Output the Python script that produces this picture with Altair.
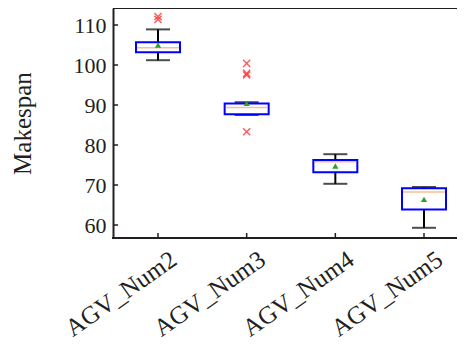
import altair as alt
import pandas as pd

cats = ["AGV_Num2", "AGV_Num3", "AGV_Num4", "AGV_Num5"]
whisker_low = [101.2, 87.5, 70.3, 59.3]
q1 = [103.2, 87.7, 73.2, 63.9]
median = [104.3, 89.4, 75.8, 68.25]
q3 = [105.7, 90.4, 76.25, 69.2]
whisker_high = [108.9, 90.7, 77.7, 69.5]
means = [105.0, 90.4, 74.75, 66.4]

outlier_cats = ["AGV_Num2", "AGV_Num2", "AGV_Num3", "AGV_Num3", "AGV_Num3", "AGV_Num3"]
outlier_vals = [112.1, 111.4, 100.4, 97.9, 97.5, 83.3]

y_ticks = [60, 70, 80, 90, 100, 110]

W, H = 344, 230
FONT = "Liberation Serif"
INK = "#231f20"

df = pd.DataFrame({"cat": cats, "lo": whisker_low, "q1": q1, "med": median,
                   "q3": q3, "hi": whisker_high, "mean": means})
out_df = pd.DataFrame({"cat": outlier_cats, "val": outlier_vals})
tick_df = pd.DataFrame({"v": y_ticks})

xs = alt.Scale(type="point", domain=cats, range=[45, 311], padding=0)
ys = alt.Scale(domain=[56.75, 114.25], nice=False, zero=False)

yaxis = alt.Axis(title="Makespan", values=y_ticks, labelFont=FONT, labelFontSize=22,
                 labelColor=INK, titleFont=FONT, titleFontSize=25, titleFontWeight="normal",
                 titleColor=INK, titlePadding=38, labelPadding=7, ticks=False, grid=False,
                 domainColor=INK, domainWidth=2)


def X():
    return alt.X("cat:N", scale=xs, sort=cats, axis=None)


def Y(f):
    return alt.Y(f, scale=ys, axis=yaxis)


base = alt.Chart(df)

whisk_lo = base.mark_rule(color="black", strokeWidth=2).encode(x=X(), y=Y("lo:Q"), y2="q1:Q")
whisk_hi = base.mark_rule(color="black", strokeWidth=2).encode(x=X(), y=Y("q3:Q"), y2="hi:Q")
cap_lo = base.mark_tick(color="black", thickness=2, size=24).encode(x=X(), y=Y("lo:Q"))
cap_hi = base.mark_tick(color="black", thickness=2, size=24).encode(x=X(), y=Y("hi:Q"))
box = base.mark_bar(fill="white", stroke="#0000ff", strokeWidth=2, size=44).encode(
    x=X(), y=Y("q1:Q"), y2="q3:Q")
med = base.mark_tick(color="#f5a46a", thickness=1.5, size=42).encode(x=X(), y=Y("med:Q"))
mean_pt = base.mark_point(shape="triangle-up", filled=True, color="#2ca02c", size=38,
                          opacity=1).encode(x=X(), y=Y("mean:Q"))
outl = alt.Chart(out_df).mark_point(shape="M-1,-1L1,1M-1,1L1,-1", filled=False, color="#ff3030",
                                    size=50, strokeWidth=1.4, opacity=0.8).encode(
    x=X(), y=Y("val:Q"))

ytk = alt.Chart(tick_df).mark_rule(color=INK, strokeWidth=1.5).encode(
    x=alt.value(0), x2=alt.value(5), y=Y("v:Q"))
xtk = base.mark_rule(color=INK, strokeWidth=1.5).encode(
    x=X(), y=alt.value(H), y2=alt.value(H - 5))
top_line = base.mark_rule(color=INK, strokeWidth=2).encode(
    x=alt.value(0), x2=alt.value(W + 10), y=alt.value(0))
bottom_line = base.mark_rule(color=INK, strokeWidth=2).encode(
    x=alt.value(-1), x2=alt.value(W + 10), y=alt.value(H))

xlabels = base.mark_text(font=FONT, fontSize=25, color=INK, angle=325, align="right",
                         baseline="top").encode(
    x=X(), xOffset=alt.value(9), y=alt.value(H + 9), text="cat:N")

chart = alt.layer(whisk_lo, whisk_hi, cap_lo, cap_hi, box, med, mean_pt, outl,
                  ytk, xtk, top_line, bottom_line, xlabels).properties(
    width=W, height=H,
    autosize=alt.AutoSizeParams(type="none"),
    padding={"left": 105, "top": 0, "right": 0, "bottom": 106},
).configure_view(stroke=None).configure(background="white")

chart.save("out.html", embed_options={"renderer": "svg", "actions": False})
